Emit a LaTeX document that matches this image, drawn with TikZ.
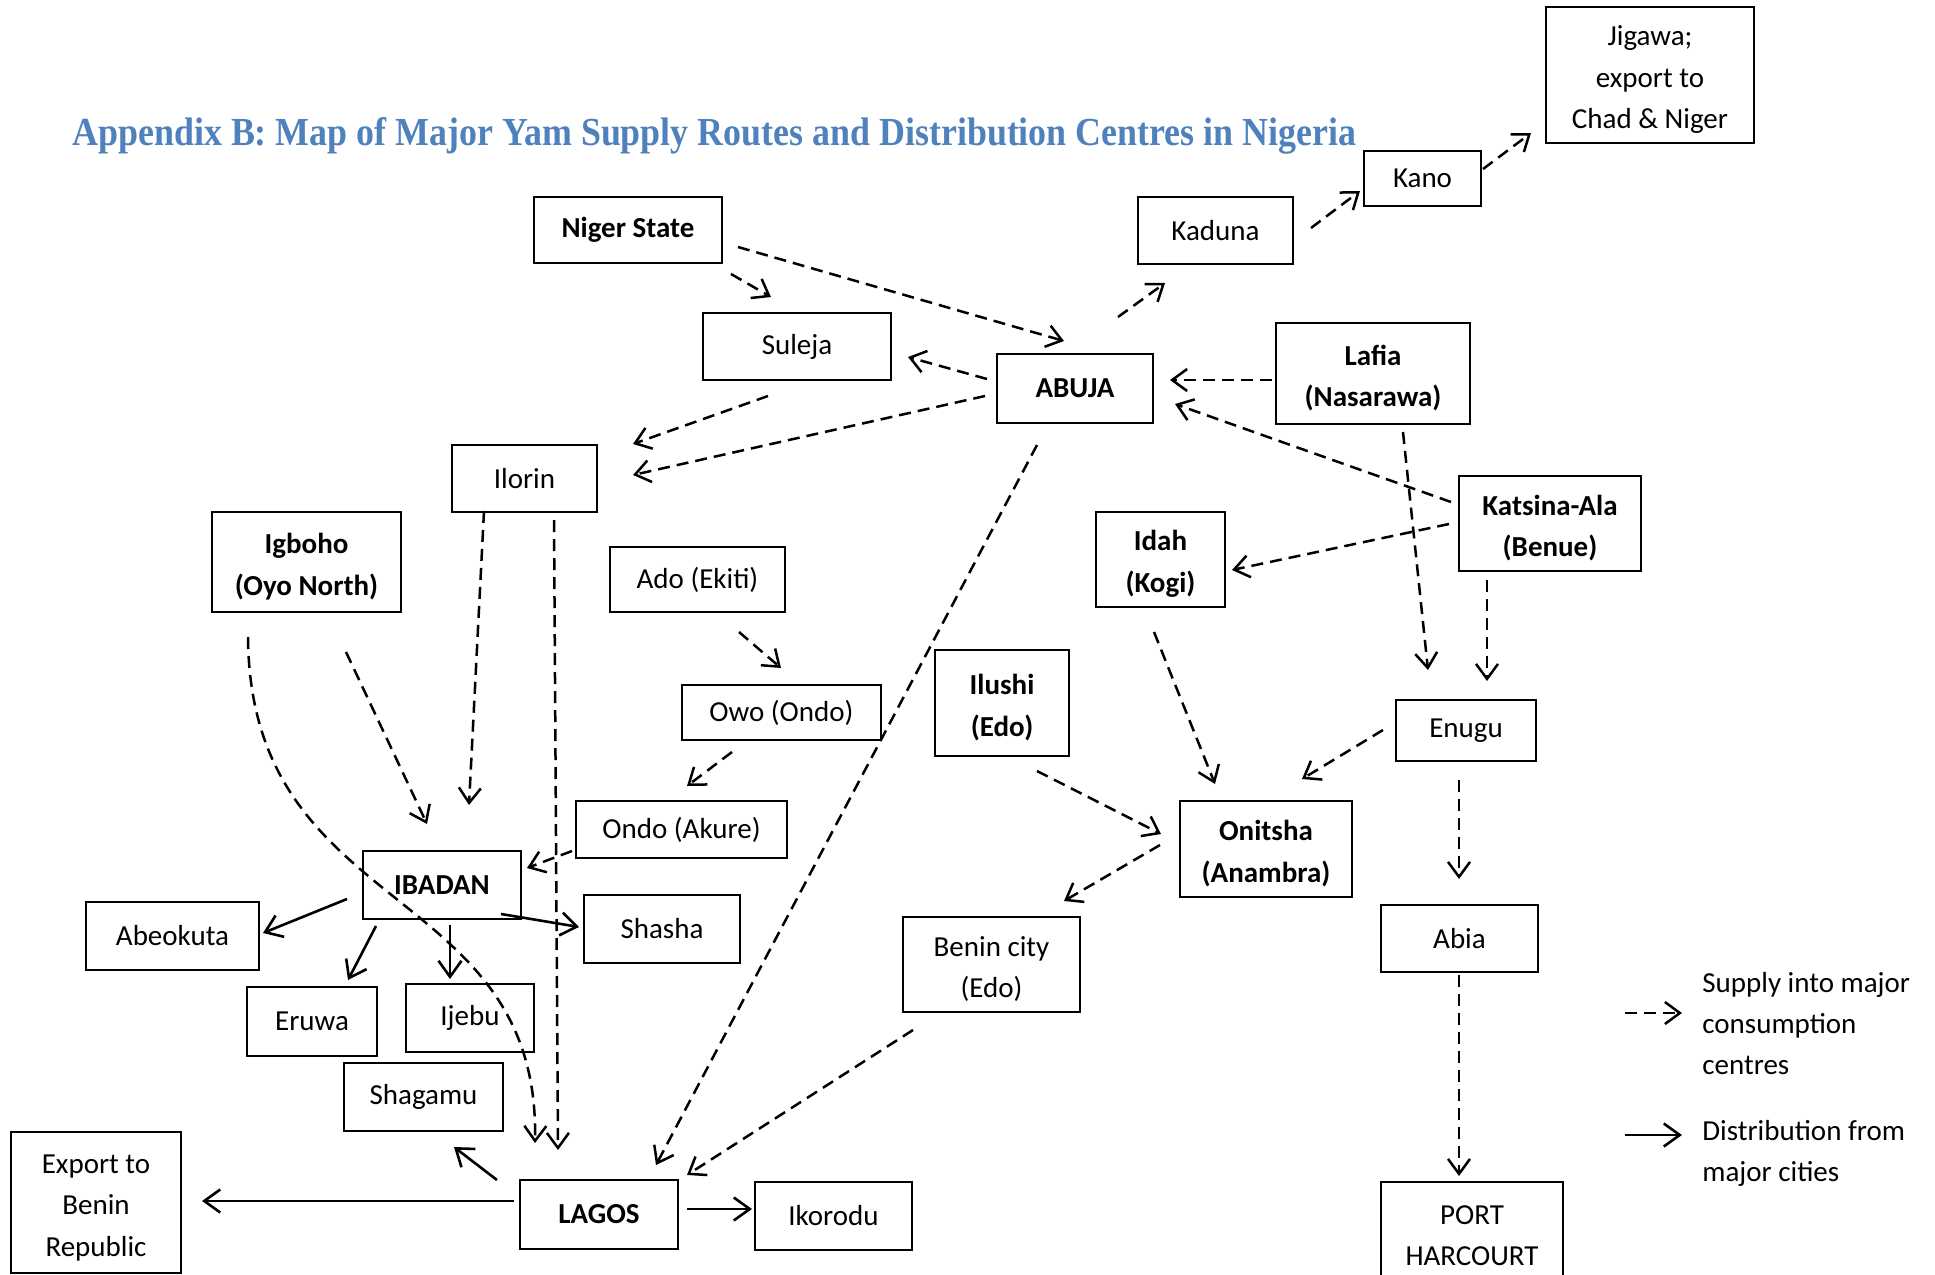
\documentclass[tikz,border=0pt]{standalone}
\usepackage{fontspec}
\usepackage{graphicx}
\setmainfont{Carlito}
\newfontfamily\titlefont{Liberation Serif}
\usetikzlibrary{arrows.meta,calc}
\definecolor{titleblue}{HTML}{4F81BD}
\newcommand\tup{\rule{0pt}{14.5pt}}
\begin{document}
\begin{tikzpicture}[x=0.5pt,y=-0.5pt,
  box/.style 2 args={draw, line width=1.25pt, minimum width=#1*0.5pt, minimum height=#2*0.5pt, inner sep=0pt, align=center, font=\fontsize{14.5pt}{20.8pt}\selectfont},
  bbox/.style 2 args={box={#1}{#2}, font=\fontsize{14.5pt}{20.8pt}\selectfont\bfseries},
  sup/.style={line width=1.25pt, dash pattern=on 6pt off 3.5pt, -{Straight Barb[length=7.5pt,width=11pt,line width=1.25pt]}},
  dist/.style={line width=1.3pt, -{Straight Barb[length=8pt,width=11.5pt,line width=1.3pt]}},
  legtext/.style={anchor=west, align=left, inner sep=0pt, font=\fontsize{14.5pt}{20.5pt}\selectfont}
]
\useasboundingbox[fill=white] (0,0) rectangle (1935,1275);

\node[anchor=base west, inner sep=0pt, text=titleblue] (title) at (72,145)
  {\resizebox{642pt}{14pt}{\titlefont\fontsize{20pt}{24pt}\selectfont\bfseries Appendix B: Map of Major Yam Supply Routes and Distribution Centres in Nigeria}};

% nodes
\node[box={208}{136}] (jigawa) at (1650,75) {\tup Jigawa;\\export to\\Chad \& Niger};
\node[box={117}{55}] (kano) at (1422.5,178.5) {Kano};
\node[box={155}{67}] (kaduna) at (1215.5,230.5) {Kaduna};
\node[bbox={188}{66}] (niger) at (628,230) {Niger State};
\node[box={188}{67}] (suleja) at (797,346.5) {Suleja};
\node[bbox={156}{69}] (abuja) at (1075,388.5) {ABUJA};
\node[bbox={194}{101}] (lafia) at (1373,373.5) {\tup Lafia\\(Nasarawa)};
\node[box={145}{67}] (ilorin) at (524.5,478.5) {Ilorin};
\node[bbox={189}{100}] (igboho) at (306.5,562) {\tup Igboho\\(Oyo North)};
\node[box={175}{65}] (ado) at (697.5,579.5) {Ado (Ekiti)};
\node[bbox={129}{95}] (idah) at (1160.5,559.5) {\tup Idah\\(Kogi)};
\node[bbox={182}{95}] (katsina) at (1550,523.5) {\tup Katsina-Ala\\(Benue)};
\node[bbox={134}{106}] (ilushi) at (1002,703) {\tup Ilushi\\(Edo)};
\node[box={199}{55}] (owo) at (781.5,712.5) {Owo (Ondo)};
\node[box={140}{61}] (enugu) at (1466,730.5) {Enugu};
\node[box={211}{57}] (ondo) at (681.5,829.5) {Ondo (Akure)};
\node[bbox={172}{96}] (onitsha) at (1266,849) {\tup Onitsha\\(Anambra)};
\node[bbox={158}{68}] (ibadan) at (442,885) {IBADAN};
\node[box={156}{68}] (shasha) at (662,929) {Shasha};
\node[box={173}{68}] (abeokuta) at (172.5,936) {Abeokuta};
\node[box={130}{69}] (eruwa) at (312,1021.5) {Eruwa};
\node[box={128}{68}] (ijebu) at (470,1018) {Ijebu};
\node[box={159}{68}] (shagamu) at (423.5,1097) {Shagamu};
\node[bbox={158}{69}] (lagos) at (599,1214.5) {LAGOS};
\node[box={157}{68}] (ikorodu) at (833.5,1216) {Ikorodu};
\node[box={170}{141}] (export) at (96,1202.5) {\tup Export to\\Benin\\Republic};
\node[box={157}{67}] (abia) at (1459.5,938.5) {Abia};
\node[box={177}{95}] (benin) at (991.5,964.5) {\tup Benin city\\(Edo)};
\node[box={182}{97}] (port) at (1472,1230.5) {\tup PORT\\HARCOURT};

% supply (dashed) connectors
\draw[sup] ($(niger.center)+(103,44)$) -- ($(suleja.center)+(-26,-49.5)$);
\draw[sup] ($(niger.center)+(110,17)$) -- ($(abuja.center)+(-11,-47.5)$);
\draw[sup] ($(abuja.center)+(43,-71.5)$) -- ($(kaduna.center)+(-50.5,52.5)$);
\draw[sup] ($(kaduna.center)+(95.5,-2.5)$) -- ($(kano.center)+(-62.5,12.5)$);
\draw[sup] ($(kano.center)+(60.5,-9.5)$) -- ($(jigawa.center)+(-119,58)$);
\draw[sup] ($(abuja.center)+(-88,-9.5)$) -- ($(suleja.center)+(111,10.5)$);
\draw[sup] ($(lafia.center)+(-101,6.5)$) -- ($(abuja.center)+(95,-8.5)$);
\draw[sup] ($(katsina.center)+(-99,-21.5)$) -- ($(abuja.center)+(100,15.5)$);
\draw[sup] ($(suleja.center)+(-29,49.5)$) -- ($(ilorin.center)+(108.5,-34.5)$);
\draw[sup] ($(abuja.center)+(-90,7.5)$) -- ($(ilorin.center)+(108.5,-3.5)$);
\draw[sup] ($(abuja.center)+(-38,56.5)$) -- ($(lagos.center)+(57,-49.5)$);
\draw[sup] ($(katsina.center)+(-101,0.5)$) -- ($(idah.center)+(71.5,10.5)$);
\draw[sup] ($(lafia.center)+(30,58.5)$) -- ($(enugu.center)+(-38,-60.5)$);
\draw[sup] ($(katsina.center)+(-63,56.5)$) -- ($(enugu.center)+(21,-49.5)$);
\draw[sup] ($(idah.center)+(-6.5,72.5)$) -- ($(onitsha.center)+(-51,-65)$);
\draw[sup] ($(enugu.center)+(-83,-0.5)$) -- ($(onitsha.center)+(36,-70)$);
\draw[sup] ($(enugu.center)+(-7,49.5)$) -- ($(abia.center)+(-0.5,-59.5)$);
\draw[sup] ($(abia.center)+(-0.5,36.5)$) -- ($(port.center)+(-13,-54.5)$);
\draw[sup] ($(ilushi.center)+(35,68)$) -- ($(onitsha.center)+(-105,-15)$);
\draw[sup] ($(onitsha.center)+(-106,-4)$) -- ($(benin.center)+(72.5,-63.5)$);
\draw[sup] ($(benin.center)+(-78.5,65.5)$) -- ($(lagos.center)+(88,-39.5)$);
\draw[sup] ($(ado.center)+(41.5,52.5)$) -- ($(owo.center)+(-0.5,-44.5)$);
\draw[sup] ($(owo.center)+(-49.5,39.5)$) -- ($(ondo.center)+(5.5,-43.5)$);
\draw[sup] ($(ondo.center)+(-109.5,21.5)$) -- ($(ibadan.center)+(85,-17)$);
\draw[sup] ($(ilorin.center)+(-40.5,32.5)$) -- ($(ibadan.center)+(27,-80)$);
\draw[sup] ($(ilorin.center)+(29.5,41.5)$) -- ($(lagos.center)+(-41,-64.5)$);
\draw[sup] ($(igboho.center)+(39.5,90)$) -- ($(ibadan.center)+(-15,-61)$);
\draw[sup] ($(igboho.center)+(-58.5,75)$) .. controls +(2,283) and +(5,-263) .. ($(lagos.center)+(-64,-71.5)$);

% distribution (solid) connectors
\draw[dist] ($(ibadan.center)+(-95,14)$) -- ($(abeokuta.center)+(90.5,-3)$);
\draw[dist] ($(ibadan.center)+(-66,41)$) -- ($(eruwa.center)+(36,-41.5)$);
\draw[dist] ($(ibadan.center)+(8,40)$) -- ($(ijebu.center)+(-20,-39)$);
\draw[dist] ($(ibadan.center)+(59,29)$) -- ($(shasha.center)+(-83,-2)$);
\draw[dist] ($(lagos.center)+(-102,-34.5)$) -- ($(shagamu.center)+(30.5,50)$);
\draw[dist] ($(lagos.center)+(-85,-13.5)$) -- ($(export.center)+(106,-1.5)$);
\draw[dist] ($(lagos.center)+(88,-5.5)$) -- ($(ikorodu.center)+(-81.5,-7)$);

% legend
\coordinate (l1a) at (1625,1013);
\coordinate (l1b) at (1682,1013);
\coordinate (l2a) at (1625,1135);
\coordinate (l2b) at (1682,1135);
\draw[sup] (l1a) -- (l1b);
\draw[dist] (l2a) -- (l2b);
\node[legtext] (leg1) at (1702,1024) {Supply into major\\consumption\\centres};
\node[legtext] (leg2) at (1702,1153) {Distribution from\\major cities};
\end{tikzpicture}
\end{document}
